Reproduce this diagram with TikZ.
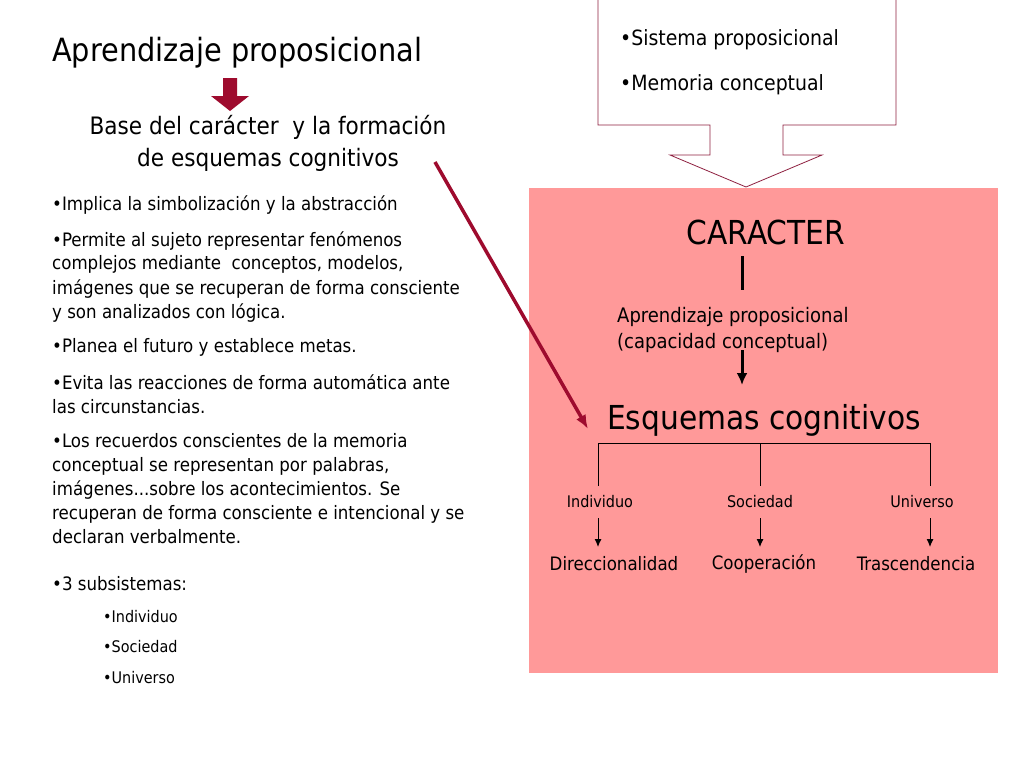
\documentclass[tikz,border=0pt]{standalone}
\usepackage{fontspec}
\setmainfont{DejaVu Sans Condensed}
\usetikzlibrary{positioning, arrows.meta}
\definecolor{panelpink}{HTML}{FF9999}
\definecolor{darkred}{HTML}{9E0B2E}
\definecolor{calloutline}{HTML}{8E2040}
\tikzset{
  txt/.style={inner sep=0pt, font=\fontsize{18.5}{24}\selectfont},
  bullet/.style={txt, anchor=north west, align=left},
  small/.style={inner sep=0pt, font=\fontsize{16}{18}\selectfont},
  big/.style={inner sep=0pt, font=\fontsize{33}{36}\selectfont}
}
\begin{document}
\begin{tikzpicture}[x=1pt, y=-1pt]
	\useasboundingbox (0,0) rectangle (1024,768);
	\fill[white] (0,0) rectangle (1024,768);
	
	% right panel
	\fill[panelpink] (529,188) rectangle (998,673);
	
	% callout box
	\draw[calloutline, line width=0.8pt, fill=white] (598,-2) -- (598,125) -- (710,125) -- (710,155) -- (670,155)
		-- (746,187) -- (822,155) -- (783,155) -- (783,125) -- (896,125) -- (896,-2);
	\node[txt, font=\fontsize{21}{26}\selectfont, anchor=west] (sis) at (620,40) {•Sistema proposicional};
	\node[txt, font=\fontsize{21}{26}\selectfont, anchor=west] (mem) at (620,85) {•Memoria conceptual};
	
	% left column
	\node[txt, font=\fontsize{32}{34}\selectfont, anchor=west] (title) at (52,53) {Aprendizaje proposicional};
	\fill[darkred] (223,78) rectangle (237,96) (211,96) -- (249,96) -- (230,111) -- cycle;
	\node[txt, font=\fontsize{24}{32}\selectfont, align=center] (base) at (268,143)
		{Base del carácter\ \ y la formación\\de esquemas cognitivos};
	
	\node[bullet] (b1) at (52,196) {•Implica la simbolización y la abstracción};
	\node[bullet] (b2) at (52,231) {•Permite al sujeto representar fenómenos\\complejos mediante\ \ conceptos, modelos,\\imágenes que se recuperan de forma consciente\\y son analizados con lógica.};
	\node[bullet] (b3) at (52,338) {•Planea el futuro y establece metas.};
	\node[bullet] (b4) at (52,374) {•Evita las reacciones de forma automática ante\\las circunstancias.};
	\node[bullet] (b5) at (52,433) {•Los recuerdos conscientes de la memoria\\conceptual se representan por palabras,\\imágenes...sobre los acontecimientos. Se\\recuperan de forma consciente e intencional y se\\declaran verbalmente.};
	\node[bullet] (b6) at (52,576) {•3 subsistemas:};
	\foreach \name/\y in {Individuo/617, Sociedad/647, Universo/678}
		\node[small, anchor=west] (s\name) at (103,\y) {•\name};
	
	% red connector
	\coordinate (from) at (435,162);
	\draw[darkred, line width=3.5pt, -{Latex[length=14pt, width=11pt]}] (from) -- (588,429);
	
	% right panel content
	\node[big] (car) at (766,232) {CARACTER};
	\draw[line width=3pt] (742,256) -- (742,290);
	\node[txt, font=\fontsize{20}{26}\selectfont, anchor=north west, align=left] (apr) at (617,307)
		{Aprendizaje proposicional\\(capacidad conceptual)};
	\draw[line width=3pt, -{Latex[length=12pt, width=11pt]}] (742,350) -- (742,385);
	\node[big] (esq) at (764,420) {Esquemas cognitivos};
	
	\draw (598,486) -- (598,443) -- (930,443) -- (930,486) (760,443) -- (760,486);
	\node[small] (ind) at (600,502) {Individuo};
	\node[small] (soc) at (760,502) {Sociedad};
	\node[small] (uni) at (922,502) {Universo};
	\node[txt] (dir) at (614,564) {Direccionalidad};
	\node[txt] (coo) at (764,564) {Cooperación};
	\node[txt] (tra) at (916,564) {Trascendencia};
	\foreach \x in {598,760,930}
		\draw[line width=1pt, -{Latex[length=8pt, width=7pt]}] (\x,518) -- (\x,547);
\end{tikzpicture}
\end{document}
